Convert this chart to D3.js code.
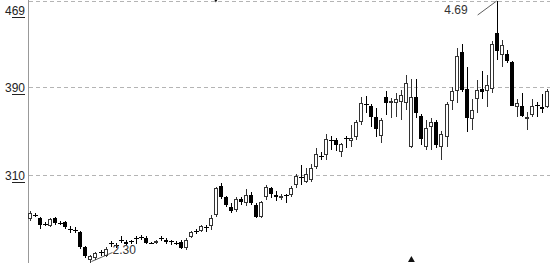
<!DOCTYPE html>
<html><head><meta charset="utf-8">
<script src="https://cdn.jsdelivr.net/npm/d3@7"></script>
<style>html,body{margin:0;padding:0;background:#fff;overflow:hidden}svg{display:block}</style>
</head><body>
<svg id="chart" width="550" height="263"></svg>
<script>
// ---- data (prices) ----
const opens = [2.70,2.73,2.71,2.65,2.63,2.71,2.66,2.67,2.61,2.60,
2.58,2.44,2.32,2.34,2.40,2.36,2.48,2.46,2.51,2.49,
2.50,2.52,2.53,2.52,2.48,2.48,2.52,2.51,2.50,2.48,
2.49,2.43,2.53,2.59,2.59,2.62,2.63,2.73,3.00,2.90,
2.81,2.78,2.88,2.84,2.92,2.83,2.72,2.90,2.98,2.92,
2.89,2.92,2.92,3.01,3.08,3.04,3.05,3.17,3.27,3.28,
3.42,3.42,3.31,3.44,3.41,3.45,3.58,3.75,3.73,3.63,
3.46,3.81,3.76,3.76,3.77,3.76,3.36,3.81,3.64,3.36,
3.54,3.58,3.36,3.45,3.78,3.87,4.22,3.89,3.61,3.79,
3.89,3.87,3.89,4.40,4.20,4.21,4.13,3.72,3.73,3.61,
3.65,3.74,3.72,3.72];
const highs = [2.77,2.75,2.72,2.67,2.71,2.72,2.68,2.68,2.63,2.62,
2.59,2.45,2.37,2.40,2.41,2.44,2.50,2.48,2.54,2.51,
2.51,2.54,2.55,2.54,2.49,2.51,2.54,2.52,2.51,2.50,
2.51,2.52,2.59,2.61,2.64,2.64,2.73,2.99,3.03,2.91,
2.84,2.90,2.90,2.97,2.94,2.84,2.86,3.01,2.99,2.95,
2.93,2.93,3.00,3.11,3.19,3.16,3.20,3.35,3.31,3.47,
3.46,3.44,3.39,3.46,3.56,3.60,3.81,3.82,3.75,3.71,
3.62,3.87,3.80,3.85,3.88,4.01,3.98,3.98,3.66,3.60,
3.62,3.60,3.50,3.77,3.90,4.26,4.30,4.09,3.79,3.97,
4.05,4.01,4.32,4.69,4.33,4.24,4.14,3.79,3.85,3.68,
3.79,3.77,3.84,3.89];
const lows = [2.68,2.72,2.61,2.63,2.62,2.64,2.64,2.61,2.57,2.57,
2.42,2.34,2.30,2.32,2.36,2.35,2.44,2.43,2.48,2.46,
2.47,2.47,2.51,2.47,2.47,2.47,2.50,2.47,2.46,2.46,
2.42,2.41,2.52,2.56,2.58,2.58,2.60,2.72,2.88,2.81,
2.75,2.76,2.83,2.82,2.83,2.71,2.71,2.87,2.89,2.86,
2.87,2.84,2.90,2.98,3.01,3.03,3.04,3.15,3.24,3.24,
3.33,3.32,3.26,3.35,3.36,3.42,3.56,3.67,3.54,3.45,
3.39,3.65,3.62,3.63,3.60,3.69,3.35,3.62,3.37,3.33,
3.33,3.35,3.24,3.36,3.69,3.76,3.86,3.49,3.51,3.67,
3.79,3.72,3.85,4.15,4.09,4.12,3.73,3.63,3.63,3.51,
3.63,3.63,3.67,3.71];
const closes = [2.75,2.73,2.64,2.65,2.70,2.66,2.66,2.62,2.61,2.60,
2.44,2.36,2.36,2.39,2.40,2.42,2.48,2.46,2.51,2.47,
2.50,2.52,2.53,2.48,2.48,2.50,2.52,2.49,2.50,2.48,
2.43,2.51,2.58,2.59,2.63,2.62,2.71,2.98,2.90,2.83,
2.77,2.88,2.85,2.92,2.84,2.72,2.85,2.99,2.93,2.90,
2.91,2.92,2.98,3.09,3.08,3.11,3.16,3.29,3.27,3.43,
3.42,3.37,3.38,3.44,3.44,3.58,3.76,3.75,3.63,3.52,
3.60,3.76,3.78,3.79,3.83,3.94,3.81,3.67,3.43,3.53,
3.58,3.37,3.47,3.75,3.87,4.19,3.88,3.62,3.69,3.88,
3.86,3.92,4.30,4.23,4.29,4.14,3.73,3.76,3.64,3.63,
3.73,3.74,3.70,3.87];
const tickValues = [4.69, 3.90, 3.10];
const tickLabels = ["469", "390", "310"];
const maxLabel = "4.69";
const minLabel = "2.30";
const markerUpIdx = [76];
const markerDownIdx = [37];

// ---- drawing ----
const W = 550, H = 263;
const svg = d3.select("#chart");
const n = opens.length;
const x = d3.scaleBand().domain(d3.range(n)).range([27.8, 549.3]).padding(0);
const y = d3.scaleLinear().domain([2.30, 4.69]).range([262.5, 1]);
const cx = i => x(i) + x.bandwidth() / 2;
const crisp = v => Math.round(v) + 0.5;

// grid lines
svg.append("g").selectAll("line").data(tickValues).join("line")
  .attr("x1", 29).attr("x2", W)
  .attr("y1", d => crisp(y(d))).attr("y2", d => crisp(y(d)))
  .attr("stroke", "#b4b4b4").attr("stroke-dasharray", "4,3").attr("shape-rendering", "crispEdges");

// axis line
svg.append("line").attr("x1", 28.5).attr("x2", 28.5).attr("y1", 0).attr("y2", H)
  .attr("stroke", "#999").attr("shape-rendering", "crispEdges");

// tick labels
const lab = svg.append("g");
tickValues.forEach((v, k) => {
  const base = Math.max(Math.round(y(v)) + 5, 15);
  const t = lab.append("text").attr("x", 25).attr("y", base)
    .attr("text-anchor", "end").attr("font-family", "Liberation Sans, Arial, sans-serif")
    .attr("font-size", 12).attr("fill", "#222").text(tickLabels[k]);
  const node = t.node();
  const full = node.getComputedTextLength();
  const sub = node.getSubStringLength(1, 2);
  lab.append("line").attr("x1", 25 - sub).attr("x2", 25)
    .attr("y1", base + 2.5).attr("y2", base + 2.5).attr("stroke", "#222").attr("stroke-width", 1)
    .attr("shape-rendering", "crispEdges");
});

// candles
const g = svg.append("g").attr("shape-rendering", "crispEdges");
for (let i = 0; i < n; i++) {
  const o = opens[i], c = closes[i], h = highs[i], l = lows[i];
  const left = Math.round(cx(i) - 2);
  const wx = left + 2.5;
  const yTop = Math.round(y(Math.max(o, c)));
  const yBot = Math.round(y(Math.min(o, c)));
  const yH = Math.round(y(h)), yL = Math.round(y(l));
  if (c > o) {
    g.append("line").attr("x1", wx).attr("x2", wx).attr("y1", yH).attr("y2", yTop).attr("stroke", "#333");
    g.append("line").attr("x1", wx).attr("x2", wx).attr("y1", yBot).attr("y2", yL).attr("stroke", "#333");
    g.append("rect").attr("x", left + 0.5).attr("y", yTop + 0.5).attr("width", 3)
      .attr("height", Math.max(yBot - yTop - 1, 1)).attr("fill", "#fff").attr("stroke", "#333");
  } else if (c < o) {
    g.append("line").attr("x1", wx).attr("x2", wx).attr("y1", yH).attr("y2", yL).attr("stroke", "#000");
    g.append("rect").attr("x", left).attr("y", yTop).attr("width", 4)
      .attr("height", Math.max(yBot - yTop, 1)).attr("fill", "#000");
  } else {
    g.append("line").attr("x1", wx).attr("x2", wx).attr("y1", yH).attr("y2", yL).attr("stroke", "#000");
    g.append("line").attr("x1", left - 0.5).attr("x2", left + 4.5).attr("y1", crisp(y(o))).attr("y2", crisp(y(o))).attr("stroke", "#000");
  }
}

// max / min annotations
const iMax = d3.maxIndex(highs), iMin = d3.minIndex(lows);
const mxX = cx(iMax), mxY = y(highs[iMax]);
svg.append("line").attr("x1", mxX).attr("y1", mxY).attr("x2", mxX - 19).attr("y2", mxY + 14)
  .attr("stroke", "#333").attr("stroke-width", 0.8);
svg.append("text").attr("x", mxX - 29).attr("y", mxY + 12.5).attr("text-anchor", "end")
  .attr("font-family", "Liberation Sans, Arial, sans-serif").attr("font-size", 12).attr("fill", "#333").text(maxLabel);
const mnX = cx(iMin), mnY = y(lows[iMin]);
svg.append("line").attr("x1", mnX + 1).attr("y1", mnY - 1).attr("x2", mnX + 22).attr("y2", mnY - 10)
  .attr("stroke", "#333").attr("stroke-width", 0.8);
svg.append("text").attr("x", mnX + 22).attr("y", mnY - 8.5)
  .attr("font-family", "Liberation Sans, Arial, sans-serif").attr("font-size", 12).attr("fill", "#333").text(minLabel);

// markers
const tri = d3.symbol(d3.symbolTriangle, 20);
markerUpIdx.forEach(i => svg.append("path").attr("d", tri())
  .attr("transform", `translate(${cx(i)},${H - 3})`).attr("fill", "#111"));
markerDownIdx.forEach(i => svg.append("path").attr("d", tri())
  .attr("transform", `translate(${cx(i)},-1.5) rotate(180)`).attr("fill", "#111"));
</script>
</body></html>
